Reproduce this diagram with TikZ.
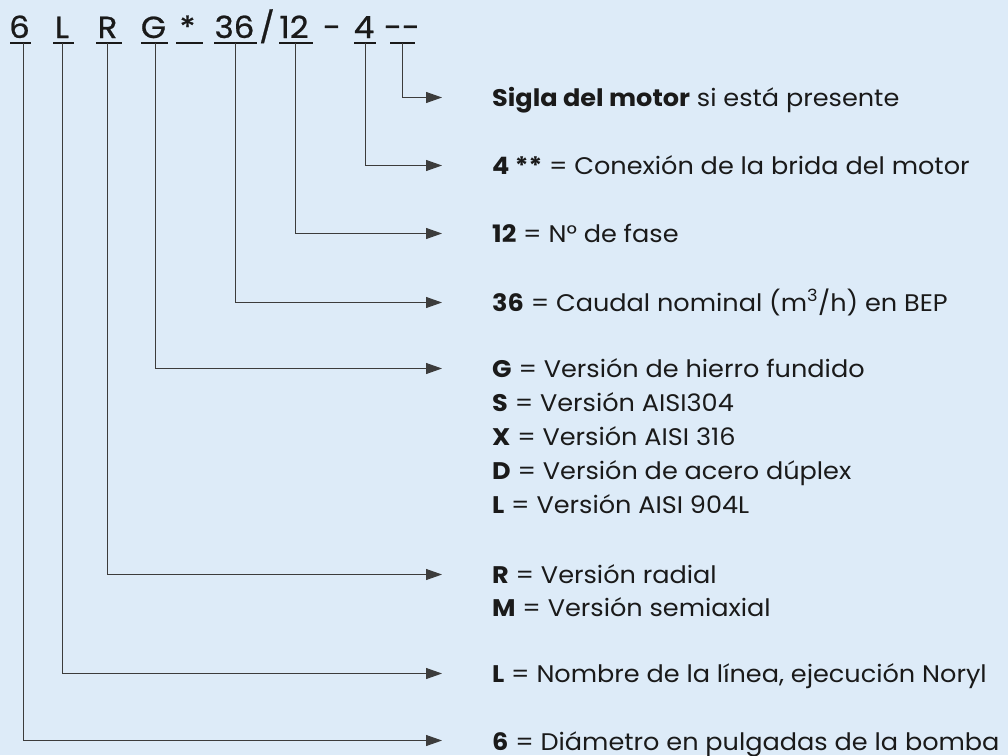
\documentclass[tikz,border=0pt]{standalone}
\usepackage{fontspec}
\setmainfont{Poppins}[FakeStretch=1.065]
\newfontfamily\codefont{Poppins}[FakeStretch=1.065,FakeBold=0.8]
\usetikzlibrary{arrows.meta}
\definecolor{bg}{HTML}{DDEBF8}
\definecolor{ink}{HTML}{1A1A1A}
\definecolor{wire}{HTML}{3C3C3C}
\tikzset{
  codechar/.style={anchor=base, inner sep=0pt, font=\codefont\fontsize{30.5}{30}\selectfont, text=ink},
  uline/.style={draw=ink, line width=1.4pt},
  conn/.style={draw=wire, line width=1pt, -{Triangle[length=16pt,width=11pt]}},
  desc/.style={anchor=base west, inner sep=0pt, font=\fontsize{24}{24}\selectfont, text=ink},
}
\begin{document}
\begin{tikzpicture}[x=1pt,y=-1pt]
\fill[bg] (0,0) rectangle (1008,755);
\useasboundingbox (0,0) rectangle (1008,755);
% code characters
\node[codechar] (c6) at (19.5,38) {6};
\node[codechar] (cL) at (62,38) {L};
\node[codechar] (cR) at (107.5,38) {R};
\node[codechar] (cG) at (153.5,38) {G};
\node[codechar] (cS) at (187.5,38) {*};
\node[codechar] (c36) at (234.5,38) {36};
\node[codechar] (cSl) at (267,38) {/};
\node[codechar] (c12) at (294,38) {12};
\node[codechar] (cD) at (332,38) {-};
\node[codechar] (c4) at (364,38) {4};
\node[codechar] (cM) at (402,38) {-{}-};
% underlines
\draw[uline] (10,43) -- (31,43);
\draw[uline] (53,43) -- (74,43);
\draw[uline] (96,43) -- (122,43);
\draw[uline] (141,43) -- (168,43);
\draw[uline] (176,43) -- (203,43);
\draw[uline] (214,43) -- (257,43);
\draw[uline] (279,43) -- (313,43);
\draw[uline] (354,43) -- (376,43);
\draw[uline] (390,43) -- (415,43);
% connector start points
\coordinate (u6) at (23,43);
\coordinate (uL) at (62,43);
\coordinate (uR) at (107,43);
\coordinate (uG) at (155,43);
\coordinate (u36) at (235,43);
\coordinate (u12) at (295,43);
\coordinate (u4) at (365,43);
\coordinate (uM) at (402,43);
% descriptions
\node[desc] (tM) at (492,106) {\textbf{Sigla del motor} si está presente};
\node[desc] (t4) at (492,174) {\textbf{4 **} = Conexión de la brida del motor};
\node[desc] (t12) at (492,242) {\textbf{12} = N° de fase};
\node[desc] (t36) at (492,311) {\textbf{36} = Caudal nominal (m\textsuperscript{3}/h) en BEP};
\node[desc] (tG) at (492,377) {\textbf{G} = Versión de hierro fundido};
\node[desc] (tS) at (492,411) {\textbf{S} = Versión AISI304};
\node[desc] (tX) at (492,445) {\textbf{X} = Versión AISI 316};
\node[desc] (tD) at (492,479) {\textbf{D} = Versión de acero dúplex};
\node[desc] (tL2) at (492,513) {\textbf{L} = Versión AISI 904L};
\node[desc] (tR) at (492,583) {\textbf{R} = Versión radial};
\node[desc] (tMx) at (492,616) {\textbf{M} = Versión semiaxial};
\node[desc] (tL) at (492,682) {\textbf{L} = Nombre de la línea, ejecución Noryl};
\node[desc] (t6) at (492,750) {\textbf{6} = Diámetro en pulgadas de la bomba};
% connectors
\draw[conn] (uM) |- ([xshift=-50pt,yshift=8.5pt]tM.base west);
\draw[conn] (u4) |- ([xshift=-50pt,yshift=8.5pt]t4.base west);
\draw[conn] (u12) |- ([xshift=-50pt,yshift=8.5pt]t12.base west);
\draw[conn] (u36) |- ([xshift=-50pt,yshift=8.5pt]t36.base west);
\draw[conn] (uG) |- ([xshift=-50pt,yshift=8.5pt]tG.base west);
\draw[conn] (uR) |- ([xshift=-50pt,yshift=8.5pt]tR.base west);
\draw[conn] (uL) |- ([xshift=-50pt,yshift=8.5pt]tL.base west);
\draw[conn] (u6) |- ([xshift=-50pt,yshift=9.5pt]t6.base west);
\end{tikzpicture}
\end{document}
